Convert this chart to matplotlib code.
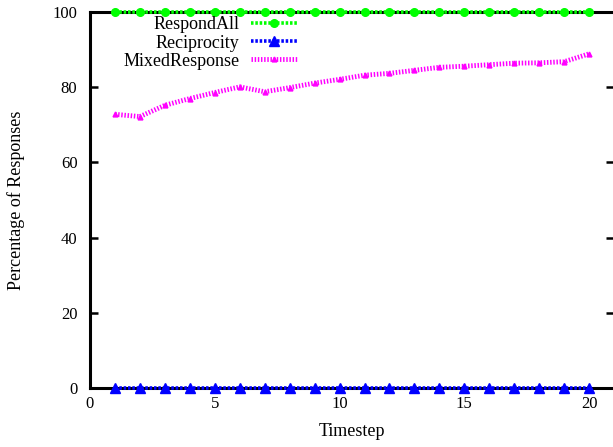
import matplotlib
matplotlib.use("Agg")
from matplotlib import pyplot as plt
import numpy as np

plt.rcParams["font.family"] = ["Liberation Serif", "DejaVu Serif"]
plt.rcParams["font.size"] = 13

timestep = list(range(1, 21))
respond_all = [100] * 20
reciprocity = [0] * 20
mixed_response = [72.8, 72.2, 75.2, 77.0, 78.6, 80.1, 78.8, 79.9, 81.1, 82.1,
                  83.2, 83.7, 84.5, 85.3, 85.6, 86.0, 86.4, 86.5, 86.8, 88.9]

fig = plt.figure(figsize=(6.13, 4.47), dpi=100)
ax = fig.add_axes([0.1468, 0.132, 0.855, 0.841])

ax.plot(timestep, respond_all, color="#00ff00", linestyle=(0, (0.7, 0.5)), linewidth=2.6,
        marker="o", markersize=5.5, label="RespondAll", clip_on=False, zorder=5)
ax.plot(timestep, reciprocity, color="#0000ff", linestyle=(0, (0.7, 0.5)), linewidth=2.6,
        marker="^", markersize=7, label="Reciprocity", clip_on=False, zorder=5)
ax.plot(timestep, mixed_response, color="#ff00ff", linestyle=(0, (0.3, 0.35)), linewidth=3.5,
        marker="^", markersize=3.5, label="MixedResponse", zorder=4)

ax.set_xlim(0, 21)
ax.set_ylim(0, 100)
ax.set_xticks([0, 5, 10, 15, 20])
ax.set_yticks([0, 20, 40, 60, 80, 100])

for s in ax.spines.values():
    s.set_linewidth(2.2)
ax.tick_params(direction="in", length=6, width=1.8, right=True, labelsize=12)
ax.tick_params(axis="x", length=0, pad=6)
ax.tick_params(axis="y", pad=9)

ax.set_xlabel("Timestep", fontsize=13, labelpad=8)
ax.set_ylabel("Percentage of Responses", fontsize=13, labelpad=20)

leg = ax.legend(loc="upper right", bbox_to_anchor=(0.42, 1.022), frameon=False,
                markerfirst=False, fontsize=13, handlelength=2.55, handletextpad=0.65,
                labelspacing=0.06, borderpad=0.2)

fig.savefig("out.png", dpi=100)
